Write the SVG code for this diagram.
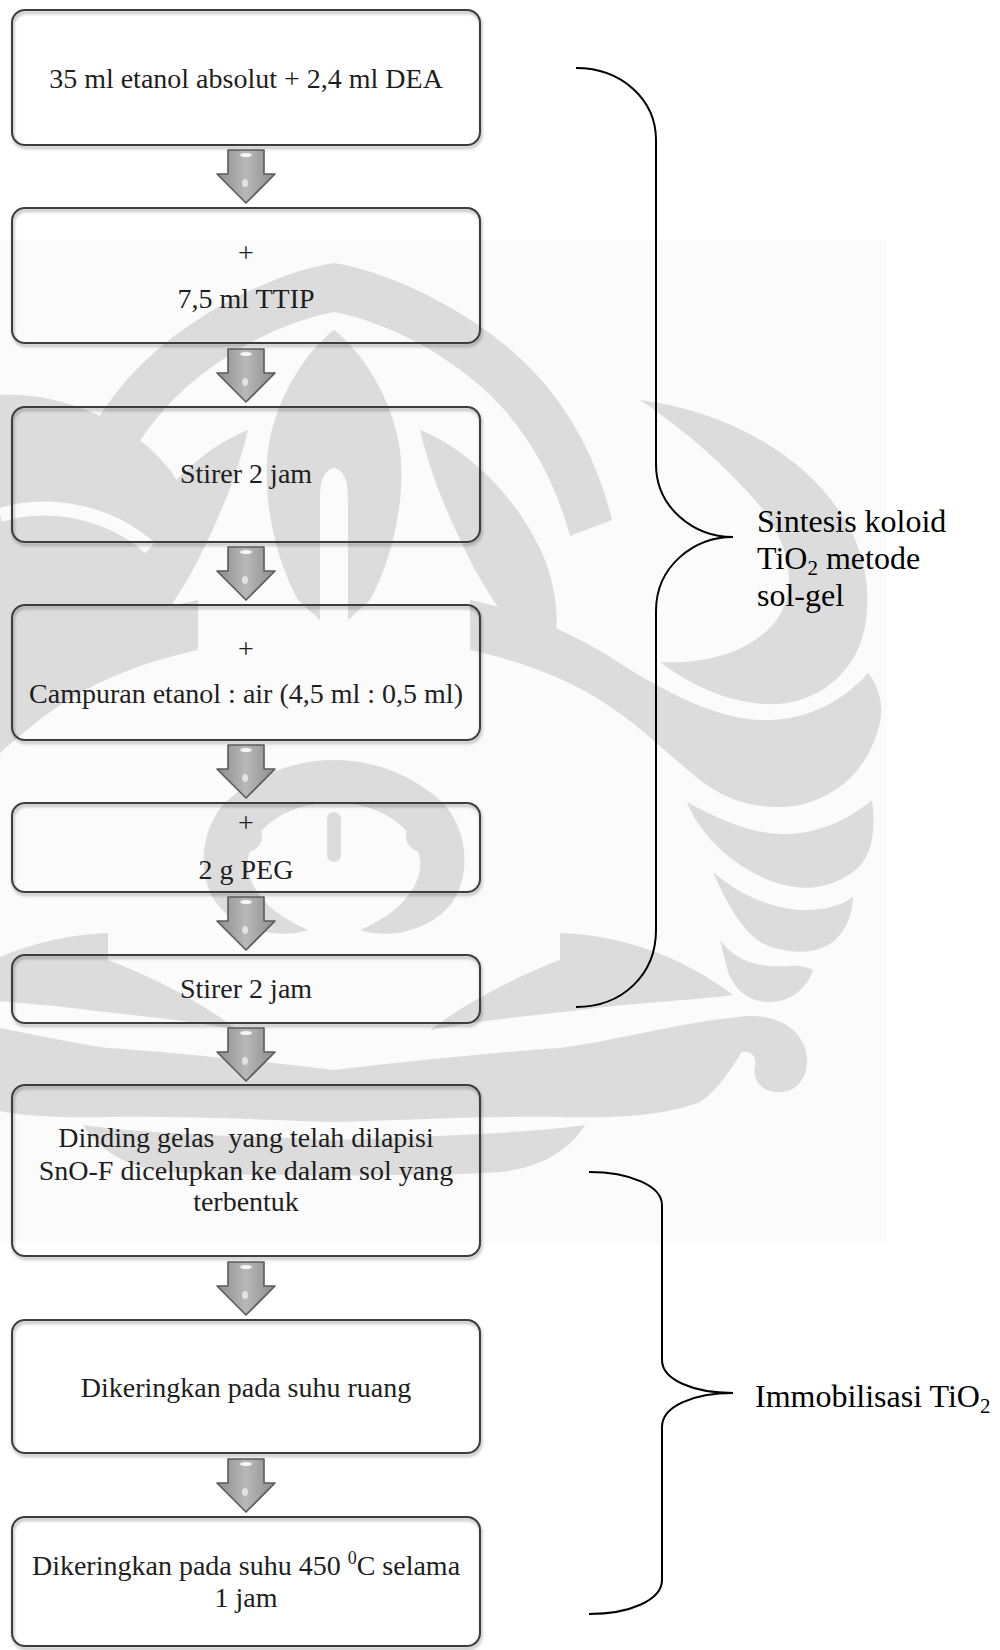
<svg xmlns="http://www.w3.org/2000/svg" width="1000" height="1650" viewBox="0 0 1000 1650">
  <defs>
    <linearGradient id="arrowFill" x1="0" y1="0" x2="1" y2="0">
      <stop offset="0" stop-color="#8c8c8c"/>
      <stop offset="0.5" stop-color="#b8b8b8"/>
      <stop offset="1" stop-color="#8c8c8c"/>
    </linearGradient>
    <filter id="shadow" x="-5%" y="-5%" width="110%" height="120%">
      <feDropShadow dx="1" dy="2.5" stdDeviation="1.5" flood-color="#000" flood-opacity="0.35"/>
    </filter>
    <!-- block arrow pointing down, origin at top centre -->
    <g id="downArrow">
      <path d="M-18,0 H18 V24 H29 L0,53 L-29,24 H-18 Z" fill="url(#arrowFill)" stroke="#5a5a5a" stroke-width="1.6" stroke-linejoin="round"/>
      <ellipse cx="0" cy="5" rx="6" ry="2" fill="#fff" opacity="0.85"/>
      <ellipse cx="-1" cy="33" rx="3" ry="4" fill="#fff" opacity="0.6"/>
    </g>
    <!-- one half of the background emblem (right side), mirrored for the left -->
    <g id="emblemHalf">
      <!-- outer arch around the crest -->
      <path d="M334,263 C380,270 450,300 505,345 C560,390 595,450 612,520 L570,536 C552,470 520,420 478,384 C435,348 385,322 334,312 Z"/>
      <!-- upper wing lobe -->
      <path d="M640,400 C720,410 800,450 842,515 C875,565 872,625 855,655 C836,690 800,706 765,704 C722,701 690,684 660,662 C700,664 748,655 775,622 C800,590 790,540 755,500 C725,466 685,430 640,400 Z"/>
      <!-- sweeping band into the middle lobe -->
      <path d="M470,600 C520,610 580,635 627,668 C680,700 720,718 760,720 C800,722 840,705 868,673 C882,690 884,712 878,730 C866,770 840,795 800,805 C760,812 725,800 700,780 C665,752 640,725 600,700 C560,675 515,660 470,650 Z"/>
      <!-- lower lobes -->
      <path d="M687,802 C720,820 750,833 780,834 C815,835 845,822 872,800 C876,830 872,852 860,866 C840,885 815,890 795,887 C760,882 730,860 713,842 C700,828 692,815 687,802 Z"/>
      <path d="M713,872 C740,895 770,908 800,910 C825,911 842,905 853,897 C852,920 842,940 822,948 C800,956 775,950 760,942 C740,928 725,900 713,872 Z"/>
      <path d="M720,940 C735,960 755,968 790,966 C800,965 808,968 813,970 C806,990 790,1002 770,1002 C748,1002 735,990 728,972 Z"/>
      <!-- bottom wave ending in a curl -->
      <path d="M334,1070 C420,1060 500,1052 560,1048 C620,1040 690,1020 750,1016 C790,1016 808,1040 807,1062 C806,1085 790,1094 775,1092 C760,1090 752,1078 755,1066 C757,1058 752,1050 742,1052 C730,1070 718,1090 700,1102 C660,1118 600,1118 560,1117 C480,1116 400,1120 334,1122 Z"/>
      <path d="M334,1140 C430,1136 520,1134 585,1125 C570,1150 540,1168 500,1172 C450,1176 390,1174 334,1176 Z"/>
      <!-- eye-shaped band -->
      <path d="M560,933 C620,935 680,955 733,995 C700,1000 640,1002 580,1010 C540,1015 480,1020 430,1030 C470,1000 520,975 560,960 Z"/>
      <!-- inner crest side -->
      <path d="M334,330 C360,350 392,395 400,450 C406,500 392,560 370,600 L348,620 L348,500 C348,480 344,470 334,468 Z"/>
      <!-- side curl beside the crest -->
      <path d="M420,430 C470,450 520,500 545,560 C560,600 560,640 548,665 C520,640 490,600 470,560 C450,520 432,480 420,430 Z"/>
      <!-- arcs around the central dots -->
      <path d="M334,760 C380,760 420,780 445,805 C470,835 470,880 450,905 C430,930 390,940 360,930 C395,915 415,895 420,870 C423,845 405,820 370,808 C358,804 346,803 334,803 Z"/>
      <circle cx="422" cy="836" r="16"/>
    </g>
  </defs>
  <style>
    .box { fill: none; stroke: #3c3c3c; stroke-width: 2; filter: url(#shadow); }
    .t { font-family: "Liberation Serif", "Times New Roman", serif; font-size: 28px; fill: #1e1e1e; text-anchor: middle; }
    .lbl { font-family: "Liberation Serif", "Times New Roman", serif; font-size: 32px; fill: #000; }
    .brace { fill: none; stroke: #000; stroke-width: 2; }
    .emblem { fill: #dcdcdc; }
  </style>

  <rect width="1000" height="1650" fill="#fff"/>

  <!-- faint background emblem -->
  <g id="emblem" class="emblem">
    <rect x="0" y="240" width="887" height="1003" fill="#fbfbfb"/>
    <use href="#emblemHalf"/>
    <use href="#emblemHalf" transform="translate(668,0) scale(-1,1)"/>
    <rect x="327" y="812" width="14" height="50" rx="7"/>
    <!-- large left-hand leaf -->
    <path d="M0,395 C60,392 130,420 170,470 C200,512 192,565 160,605 C128,645 75,682 0,705 Z"/>
    <path d="M0,515 C50,500 110,512 150,548" fill="none" stroke="#fbfbfb" stroke-width="14"/>
  </g>

  <!-- process steps -->
  <g id="step1">
    <rect class="box" x="12" y="10" width="468" height="135" rx="13"/>
    <text class="t" x="246" y="88">35 ml etanol absolut + 2,4 ml DEA</text>
  </g>
  <g id="step2">
    <rect class="box" x="12" y="208" width="468" height="135" rx="13"/>
    <text class="t" x="246" y="262">+</text>
    <text class="t" x="246" y="308">7,5 ml TTIP</text>
  </g>
  <g id="step3">
    <rect class="box" x="12" y="407" width="468" height="135" rx="13"/>
    <text class="t" x="246" y="483">Stirer 2 jam</text>
  </g>
  <g id="step4">
    <rect class="box" x="12" y="605" width="468" height="135" rx="13"/>
    <text class="t" x="246" y="658">+</text>
    <text class="t" x="246" y="703">Campuran etanol : air (4,5 ml : 0,5 ml)</text>
  </g>
  <g id="step5">
    <rect class="box" x="12" y="803" width="468" height="89" rx="13"/>
    <text class="t" x="246" y="832">+</text>
    <text class="t" x="246" y="879">2 g PEG</text>
  </g>
  <g id="step6">
    <rect class="box" x="12" y="955" width="468" height="68" rx="13"/>
    <text class="t" x="246" y="998">Stirer 2 jam</text>
  </g>
  <g id="step7">
    <rect class="box" x="12" y="1085" width="468" height="171" rx="13"/>
    <text class="t" x="246" y="1147" xml:space="preserve">Dinding gelas  yang telah dilapisi</text>
    <text class="t" x="246" y="1180">SnO-F dicelupkan ke dalam sol yang</text>
    <text class="t" x="246" y="1211">terbentuk</text>
  </g>
  <g id="step8">
    <rect class="box" x="12" y="1320" width="468" height="133" rx="13"/>
    <text class="t" x="246" y="1397">Dikeringkan pada suhu ruang</text>
  </g>
  <g id="step9">
    <rect class="box" x="12" y="1517" width="468" height="129" rx="13"/>
    <text class="t" x="246" y="1575">Dikeringkan pada suhu 450 <tspan font-size="18" dy="-11">0</tspan><tspan dy="11">C selama</tspan></text>
    <text class="t" x="246" y="1607">1 jam</text>
  </g>

  <!-- flow arrows between steps -->
  <g id="connectors">
    <use href="#downArrow" x="246" y="150"/>
    <use href="#downArrow" x="246" y="349"/>
    <use href="#downArrow" x="246" y="547"/>
    <use href="#downArrow" x="246" y="745"/>
    <use href="#downArrow" x="246" y="897"/>
    <use href="#downArrow" x="246" y="1028"/>
    <use href="#downArrow" x="246" y="1262"/>
    <use href="#downArrow" x="246" y="1459"/>
  </g>

  <!-- group braces and their captions -->
  <g id="group-solgel">
    <path class="brace" d="M576,68 C622,68 656,100 656,140 L656,464 C656,508 694,537 733,537 C694,537 656,566 656,611 L656,930 C656,975 622,1007 576,1007"/>
    <text class="lbl" x="757" y="532">Sintesis koloid</text>
    <text class="lbl" x="757" y="569">TiO<tspan font-size="21" dy="6">2</tspan><tspan dy="-6"> metode</tspan></text>
    <text class="lbl" x="757" y="606">sol-gel</text>
  </g>
  <g id="group-immobilisasi">
    <path class="brace" d="M589,1172 C630,1172 662,1186 662,1205 L662,1360 C662,1380 694,1393 733,1393 C694,1393 662,1406 662,1427 L662,1580 C662,1600 630,1614 589,1614"/>
    <text class="lbl" x="755" y="1407">Immobilisasi TiO<tspan font-size="21" dy="6">2</tspan></text>
  </g>
</svg>
